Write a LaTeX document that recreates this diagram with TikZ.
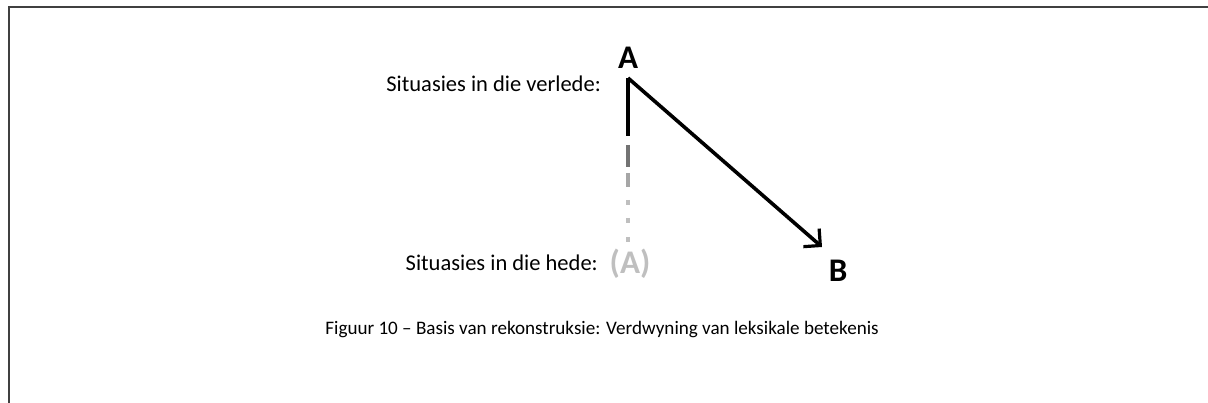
\documentclass[tikz,border=0pt]{standalone}
\usepackage{fontspec}
\setmainfont{Carlito}
\usetikzlibrary{arrows.meta}
\begin{document}
\begin{tikzpicture}[x=1pt,y=-1pt,
  lbl/.style={font=\fontsize{22.5}{26}\selectfont, inner sep=0pt},
  big/.style={font=\fontsize{33}{36}\selectfont\bfseries, inner sep=0pt},
  thickline/.style={line width=3.6pt}]
\useasboundingbox (0,0) rectangle (1208,403);
\draw[line width=2pt, black!75] (9,403) -- (9,7.5) -- (1208,7.5);
\node[big] (A) at (628,58) {A};
\node[big] (B) at (838,271) {B};
\node[big, text=black!25] (Ap) at (630,264) {(A)};
\node[lbl, anchor=east] (past) at (601,84) {Situasies in die verlede:};
\node[lbl, anchor=east] (now) at (598,263) {Situasies in die hede:};
\node[font=\fontsize{19.1}{22}\selectfont, inner sep=0pt] (cap) at (602,330) {Figuur 10 – Basis van rekonstruksie: Verdwyning van leksikale betekenis};
\coordinate (top) at (628,78);
\coordinate (s1) at (628,136);
\coordinate (tip) at (822,247);
\draw[thickline] (top) -- (s1);
\draw[thickline, black!55] (628,145) -- (628,167);
\draw[thickline, black!35] (628,173) -- (628,187);
\foreach \y in {200,218,237} \draw[line width=3.6pt, black!25] (628,\y) -- (628,\y+5);
\draw[thickline, line join=miter, -{Straight Barb[length=12pt,width=24pt,line width=3.2pt]}] (top) -- (tip);
\end{tikzpicture}
\end{document}
